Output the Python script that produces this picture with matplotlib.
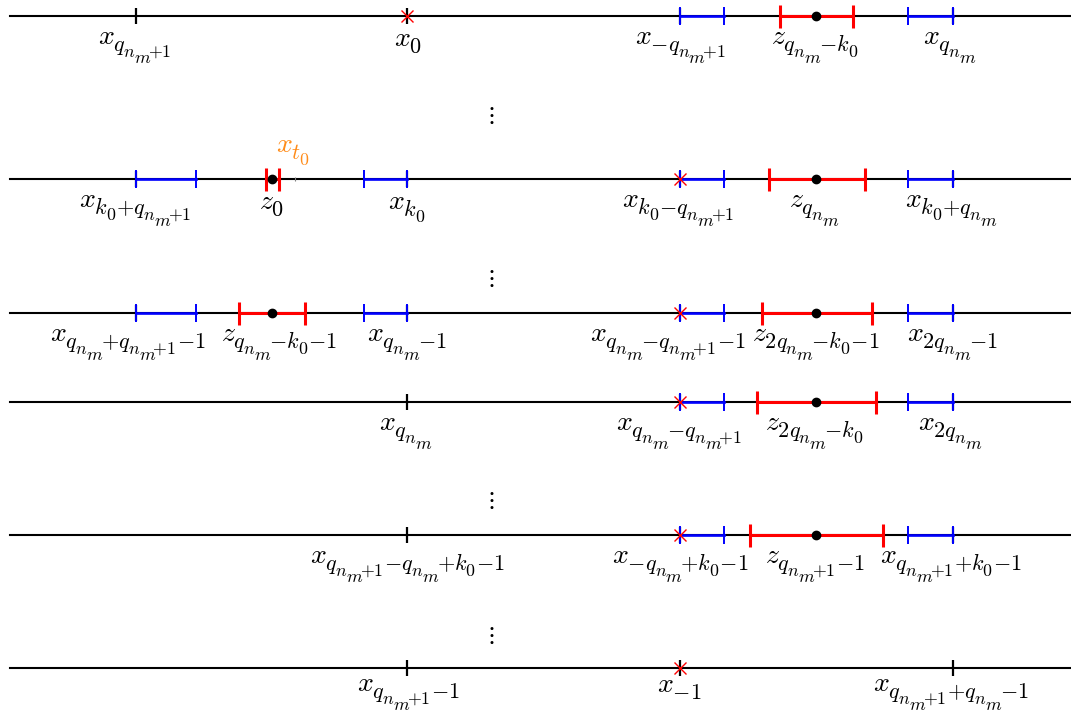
import matplotlib
matplotlib.use('Agg')
import matplotlib.pyplot as plt
import matplotlib._mathtext as mt

plt.rcParams['mathtext.fontset'] = 'cm'
# bigger and lower sub/subsubscripts like in the original drawing
mt.SHRINK_FACTOR = 0.8
mt.NUM_SIZE_LEVELS = 3
mt.ComputerModernFontConstants.sub1 = 0.32
mt.ComputerModernFontConstants.sub2 = 0.4

# vertical position of each number line (pixels from top)
row_y = [16, 179, 313, 402, 535, 668]
# distance from line to label baseline (last row squeezed to stay inside)
label_gap = [29, 29, 29, 29, 29, 24]

# plain black ticks on each line
black_ticks = [
    [136, 407, 680, 953],
    [136, 407, 680, 953],
    [136, 407, 680, 953],
    [407, 680, 953],
    [407, 680, 953],
    [407, 680, 953],
]
# red crosses
crosses = [[407], [680], [680], [680], [680], [680]]

# blue intervals (left, right)
blue_int = [
    [(680, 724), (908, 953)],
    [(136, 196), (364, 407), (680, 724), (908, 953)],
    [(136, 196), (364, 407), (680, 724), (908, 953)],
    [(680, 724), (908, 953)],
    [(680, 724), (908, 953)],
    [],
]
# red intervals (left, right) and the black dot inside
red_int = [
    [(780, 853)],
    [(266, 279), (769, 865)],
    [(239, 305), (762, 872)],
    [(757, 876)],
    [(750, 883)],
    [],
]
dots = [[816], [272, 816], [272, 816], [816], [816], []]

# labels below each line: (x centre, text)
labels = [
    [(135, r'$x_{q_{n_m{+}1}}$'), (408, r'$x_0$'), (680, r'$x_{{-}q_{n_m{+}1}}$'),
     (815, r'$z_{q_{n_m}{-}k_0}$'), (950, r'$x_{q_{n_m}}$')],
    [(135, r'$x_{k_0{+}q_{n_m{+}1}}$'), (272, r'$z_0$'), (407, r'$x_{k_0}$'),
     (678, r'$x_{k_0{-}q_{n_m{+}1}}$'), (814, r'$z_{q_{n_m}}$'), (951, r'$x_{k_0{+}q_{n_m}}$')],
    [(128, r'$x_{q_{n_m}{+}q_{n_m{+}1}{-}1}$'), (279, r'$z_{q_{n_m}{-}k_0{-}1}$'),
     (407, r'$x_{q_{n_m}{-}1}$'), (668, r'$x_{q_{n_m}{-}q_{n_m{+}1}{-}1}$'),
     (816, r'$z_{2q_{n_m}{-}k_0{-}1}$'), (953, r'$x_{2q_{n_m}{-}1}$')],
    [(406, r'$x_{q_{n_m}}$'), (679, r'$x_{q_{n_m}{-}q_{n_m{+}1}}$'),
     (814, r'$z_{2q_{n_m}{-}k_0}$'), (950, r'$x_{2q_{n_m}}$')],
    [(407, r'$x_{q_{n_m{+}1}{-}q_{n_m}{+}k_0{-}1}$'), (680, r'$x_{{-}q_{n_m}{+}k_0{-}1}$'),
     (815, r'$z_{q_{n_m{+}1}{-}1}$'), (951, r'$x_{q_{n_m{+}1}{+}k_0{-}1}$')],
    [(408, r'$x_{q_{n_m{+}1}{-}1}$'), (679, r'$x_{{-}1}$'),
     (951, r'$x_{q_{n_m{+}1}{+}q_{n_m}{-}1}$')],
]
vdots_y = [115, 278, 500, 635]
vdots_x = 490
t0_x = 295

fig = plt.figure(figsize=(10.71, 7.16), dpi=100)
ax = fig.add_axes([0, 0, 1, 1])
ax.set_xlim(0, 1071)
ax.set_ylim(716, 0)
ax.axis('off')

for i, y in enumerate(row_y):
    ax.plot([10, 1071], [y, y], color='black', lw=1.5, zorder=1)
    for x in black_ticks[i]:
        ax.vlines(x, y - 8, y + 8, color='black', lw=1.6, zorder=2)
    for a, b in blue_int[i]:
        ax.plot([a, b], [y, y], color='blue', lw=1.9, zorder=3)
        ax.vlines([a, b], y - 9, y + 9, color='blue', lw=1.4, zorder=3)
    for a, b in red_int[i]:
        ax.plot([a, b], [y, y], color='red', lw=2.2, zorder=4)
        ax.vlines([a, b], y - 11.5, y + 11.5, color='red', lw=2.2, zorder=4)
    for x in dots[i]:
        ax.plot(x, y, 'o', color='black', ms=6, zorder=5)
    for x in crosses[i]:
        ax.plot(x, y, 'x', color='red', ms=9, mew=1.0, zorder=6)
    for x, s in labels[i]:
        ax.text(x, y + label_gap[i], s, ha='center', va='baseline', fontsize=20)

# faint tick and orange label for t_0
ax.vlines(t0_x, row_y[1] - 2, row_y[1] + 2, color='gray', lw=0.8, zorder=2)
ax.text(293, 151, r'$x_{t_0}$', ha='center', va='baseline', fontsize=20,
        color='#ff8c1a')

for y in vdots_y:
    ax.text(vdots_x, y, r'$\vdots$', ha='center', va='center', fontsize=17)

fig.savefig('out.png', dpi=100)
